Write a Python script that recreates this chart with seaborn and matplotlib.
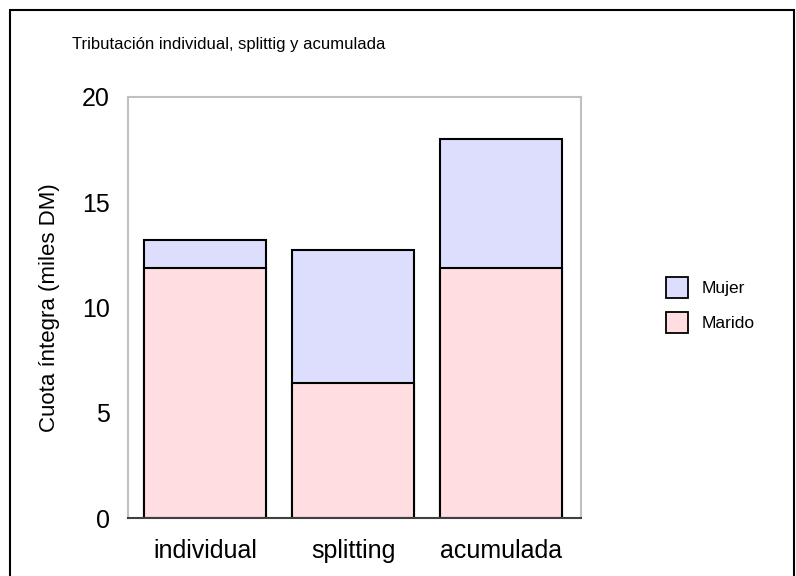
import matplotlib
matplotlib.use("Agg")
import matplotlib.pyplot as plt
import seaborn as sns
import pandas as pd
from matplotlib.patches import Patch, Rectangle

# Datos (miles DM)
categorias = ["individual", "splitting", "acumulada"]
marido = [11.9, 6.4, 11.9]
mujer = [1.3, 6.35, 6.1]

total = [m + f for m, f in zip(marido, mujer)]
df = pd.DataFrame({"Tributacion": categorias, "Marido": marido, "Total": total})

col_mujer = "#DDDDFD"
col_marido = "#FFDDE0"

sns.set_style("white")
plt.rcParams["font.family"] = ["Liberation Sans", "DejaVu Sans"]
plt.rcParams["text.color"] = "black"
plt.rcParams["axes.labelcolor"] = "black"
plt.rcParams["xtick.color"] = "black"
plt.rcParams["ytick.color"] = "black"

fig = plt.figure(figsize=(7.96, 5.76), dpi=100)
ax = fig.add_axes([128 / 796, 1 - 518 / 576, (581 - 128) / 796, (518 - 97) / 576])

# barras apiladas: total (Mujer arriba) y luego Marido encima
sns.barplot(data=df, x="Tributacion", y="Total", color=col_mujer, width=0.82,
            edgecolor="black", linewidth=1.5, saturation=1, ax=ax)
sns.barplot(data=df, x="Tributacion", y="Marido", color=col_marido, width=0.82,
            edgecolor="black", linewidth=1.5, saturation=1, ax=ax)

ax.set_xlim(-0.52, 2.54)
ax.set_ylim(0, 20)
ax.set_yticks([0, 5, 10, 15, 20])
ax.tick_params(axis="both", length=0, labelsize=18, pad=13)
ax.tick_params(axis="x", pad=15)
ax.set_xlabel("")
ax.set_ylabel("Cuota íntegra (miles DM)", fontsize=16, labelpad=16)

for s in ["left", "top", "right"]:
    ax.spines[s].set_color("#c0c0c0")
    ax.spines[s].set_linewidth(1.5)
ax.spines["bottom"].set_color("#404040")
ax.spines["bottom"].set_linewidth(1.5)

fig.text(72 / 796, 1 - 45 / 576, "Tributación individual, splittig y acumulada",
         fontsize=12, va="center", ha="left")

handles = [Patch(facecolor=col_mujer, edgecolor="black", linewidth=1.3, label="Mujer"),
           Patch(facecolor=col_marido, edgecolor="black", linewidth=1.3, label="Marido")]
fig.legend(handles=handles, loc="center left", bbox_to_anchor=(650 / 796, 1 - 305 / 576),
           frameon=False, fontsize=12.5, handlelength=1.3, handleheight=1.5,
           labelspacing=0.8, handletextpad=0.8)

# marco exterior del gráfico
fig.patches.append(Rectangle((10 / 796, -0.05), 784 / 796, 1.05 - 10 / 576,
                             transform=fig.transFigure, fill=False,
                             edgecolor="black", linewidth=1.5))

fig.savefig("out.png", dpi=100)
